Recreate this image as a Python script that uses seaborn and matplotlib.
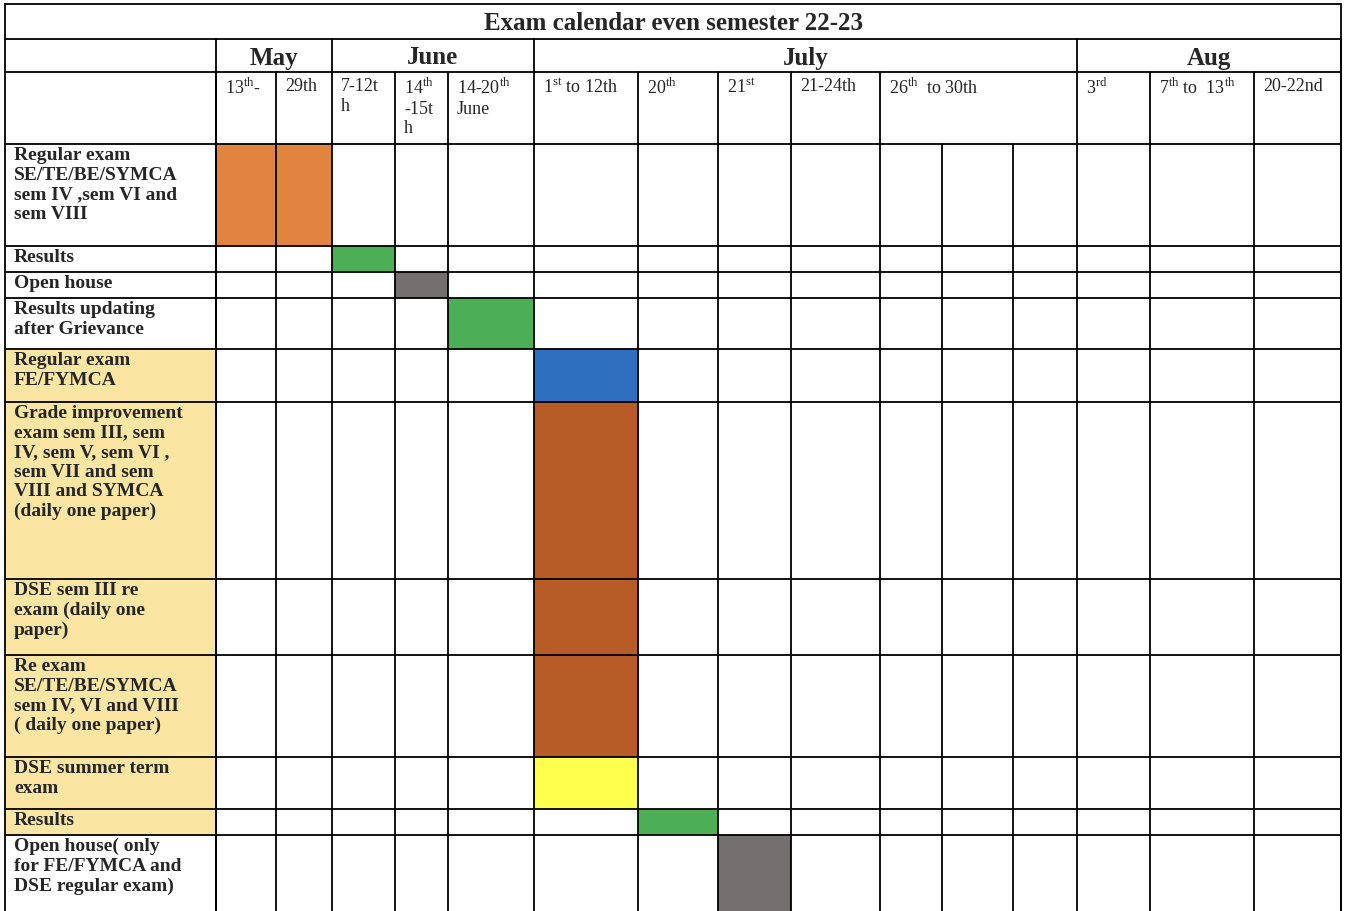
import matplotlib
matplotlib.use("Agg")
import matplotlib.pyplot as plt
import seaborn as sns

sns.set_style("white")
plt.rcParams['font.family'] = ['Liberation Serif', 'DejaVu Serif']
plt.rcParams['mathtext.fontset'] = 'custom'
plt.rcParams['mathtext.rm'] = 'Liberation Serif'

title = "Exam calendar even semester 22-23"
months = ["May", "June", "July", "Aug"]
month_spans = [(216, 332), (332, 534), (534, 1077), (1077, 1341)]
date_labels = ["13$^{\\mathrm{th}}$-", "29th", "7-12t\nh", "14$^{\\mathrm{th}}$\n-15t\nh",
               "14-20$^{\\mathrm{th}}$\nJune", "1$^{\\mathrm{st}}$ to 12th", "20$^{\\mathrm{th}}$",
               "21$^{\\mathrm{st}}$", "21-24th", "26$^{\\mathrm{th}}$  to 30th",
               "3$^{\\mathrm{rd}}$", "7$^{\\mathrm{th}}$ to  13$^{\\mathrm{th}}$", "20-22nd"]
header_edges = [216, 276, 332, 395, 448, 534, 638, 718, 791, 880, 1077, 1150, 1254, 1341]
body_edges = [216, 276, 332, 395, 448, 534, 638, 718, 791, 880, 942, 1013, 1077, 1150, 1254, 1341]
row_labels = ["Regular exam\nSE/TE/BE/SYMCA\nsem IV ,sem VI and\nsem VIII", "Results", "Open house",
              "Results updating\nafter Grievance", "Regular exam\nFE/FYMCA",
              "Grade improvement\nexam sem III, sem\nIV, sem V, sem VI ,\nsem VII and sem\nVIII and SYMCA\n(daily one paper)",
              "DSE sem III re\nexam (daily one\npaper)", "Re exam\nSE/TE/BE/SYMCA\nsem IV, VI and VIII\n( daily one paper)",
              "DSE summer term\nexam", "Results", "Open house( only\nfor FE/FYMCA and\nDSE regular exam)"]
row_edges = [145, 247, 273, 299, 350, 403, 580, 656, 758, 810, 836, 940]
highlight_rows = [4, 5, 6, 7, 8, 9]
# (row, first body column, number of columns, colour)
fills = [(0, 0, 2, "#E0843F"), (1, 2, 1, "#4CAF55"), (2, 3, 1, "#747070"), (3, 4, 1, "#4CAF55"),
         (4, 5, 1, "#2F6FBF"), (5, 5, 1, "#B85C27"), (6, 5, 1, "#B85C27"), (7, 5, 1, "#B85C27"),
         (8, 5, 1, "#FFFF4D"), (9, 6, 1, "#4CAF55"), (10, 7, 1, "#747070")]

fig = plt.figure(figsize=(13.52, 9.12), dpi=100)
ax = fig.add_axes([0, 0, 1, 1])
ax.set_xlim(0, 1352)
ax.set_ylim(912, 0)
ax.axis("off")

L, R = 5, 1341
for r in highlight_rows:
    ax.fill_between([L, 216], row_edges[r], row_edges[r + 1], color="#FAE5A2", lw=0)
for r, c, n, col in fills:
    ax.fill_between([body_edges[c], body_edges[c + n]], row_edges[r], row_edges[r + 1], color=col, lw=0)

lk = dict(color="black", lw=1.3)
for y in [5, 40, 73] + row_edges[:-1]:
    ax.plot([L, R], [y, y], **lk)
ax.plot([L, L], [5, 940], **lk)
ax.plot([R, R], [5, 940], **lk)
ax.plot([216, 216], [40, 940], **lk)
for a, b in month_spans:
    ax.plot([b, b], [40, 73], **lk)
for x in header_edges:
    ax.plot([x, x], [73, 145], **lk)
for x in body_edges:
    ax.plot([x, x], [145, 940], **lk)

ax.text(673, 23, title, ha="center", va="center", fontsize=18, fontweight="bold")
for m, (a, b) in zip(months, month_spans):
    ax.text((a + b) / 2, 58, m, ha="center", va="center", fontsize=18, fontweight="bold")
for lab, x in zip(date_labels, header_edges[:-1]):
    ax.text(x + 9, 78, lab, ha="left", va="top", fontsize=13, linespacing=1.2)
for lab, r in zip(row_labels, range(len(row_labels))):
    ax.text(14, row_edges[r] + 2, lab, ha="left", va="top", fontsize=14, fontweight="bold", linespacing=1.2)

fig.savefig("out.png", dpi=100)
